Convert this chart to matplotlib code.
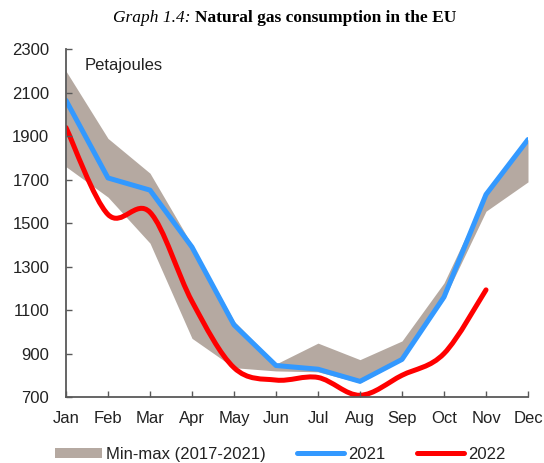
import matplotlib
matplotlib.use("Agg")
import matplotlib.pyplot as plt
from matplotlib.path import Path
from matplotlib.patches import PathPatch, Patch
from matplotlib.lines import Line2D

months = ["Jan", "Feb", "Mar", "Apr", "May", "Jun", "Jul", "Aug", "Sep", "Oct", "Nov", "Dec"]
band_max = [2200, 1890, 1730, 1400, 1050, 852, 948, 872, 958, 1225, 1635, 1885]
band_min = [1760, 1620, 1408, 970, 835, 820, 816, 765, 870, 1150, 1555, 1690]
gas_2021 = [2065, 1708, 1652, 1390, 1032, 845, 828, 772, 873, 1160, 1632, 1885]
gas_2022 = [1940, 1540, 1550, 1140, 835, 778, 790, 708, 800, 900, 1193]

BAND = "#b5a9a1"
BLUE = "#3399ff"
RED = "#ff0000"
AXIS = "#595959"


def smooth_path(xs, ys):
    # Excel-style smoothed line: cubic bezier through each point
    n = len(xs)
    verts = [(xs[0], ys[0])]
    codes = [Path.MOVETO]
    for i in range(n - 1):
        i0 = max(i - 1, 0)
        i3 = min(i + 2, n - 1)
        c1 = (xs[i] + (xs[i + 1] - xs[i0]) / 6, ys[i] + (ys[i + 1] - ys[i0]) / 6)
        c2 = (xs[i + 1] - (xs[i3] - xs[i]) / 6, ys[i + 1] - (ys[i3] - ys[i]) / 6)
        verts += [c1, c2, (xs[i + 1], ys[i + 1])]
        codes += [Path.CURVE4] * 3
    return Path(verts, codes)


plt.rcParams["font.family"] = ["Liberation Sans", "DejaVu Sans"]

fig = plt.figure(figsize=(5.44, 4.63), dpi=100)
ax = fig.add_axes([0.1213, 0.1425, 0.8493, 0.751])

x = list(range(len(months)))
ax.fill_between(x, band_min, band_max, color=BAND, linewidth=0)
ax.plot(x, gas_2021, color=BLUE, linewidth=3.6, solid_capstyle="round", solid_joinstyle="round")

x22 = list(range(len(gas_2022)))
ax.add_patch(PathPatch(smooth_path(x22, gas_2022), fill=False, edgecolor=RED,
                       linewidth=3.6, capstyle="round", joinstyle="round"))

ax.set_xlim(0, 11)
ax.set_ylim(700, 2300)
ax.set_xticks(x)
ax.set_xticklabels(months)
ax.set_yticks(range(700, 2301, 200))

for side in ["top", "right"]:
    ax.spines[side].set_visible(False)
for side in ["left", "bottom"]:
    ax.spines[side].set_color(AXIS)
    ax.spines[side].set_linewidth(1.3)

ax.tick_params(axis="both", direction="in", length=4, width=1, color=AXIS,
               labelsize=12, labelcolor="#222222")
ax.tick_params(axis="x", pad=10)
ax.tick_params(axis="y", pad=12)

ax.text(0.04, 0.975, "Petajoules", transform=ax.transAxes, fontsize=12,
        color="#222222", va="top", ha="left")

# title: italic prefix + bold text, centred together
title_font = ["Liberation Serif", "DejaVu Serif"]
t1 = fig.text(0, 0.952, "Graph 1.4: ", fontsize=12.5, style="italic",
              family=title_font, va="baseline", ha="left")
t2 = fig.text(0, 0.952, "Natural gas consumption in the EU", fontsize=12.5,
              weight="bold", family=title_font, va="baseline", ha="left")
fig.canvas.draw()
w1 = t1.get_window_extent().width
w2 = t2.get_window_extent().width
x0 = 285 - (w1 + w2) / 2
t1.set_x(x0 / fig.bbox.width)
t2.set_x((x0 + w1) / fig.bbox.width)

handles = [Patch(facecolor=BAND, edgecolor="none"),
           Line2D([], [], color=BLUE, linewidth=3.6, solid_capstyle="round"),
           Line2D([], [], color=RED, linewidth=3.6, solid_capstyle="round")]
fig.legend(handles, ["Min-max (2017-2021)", "2021", "2022"], loc="lower center",
           bbox_to_anchor=(0.515, -0.03), ncol=3, frameon=False, fontsize=12,
           handlelength=2.8, handleheight=0.6, handletextpad=0.25, columnspacing=1.9,
           labelcolor="#222222")

fig.savefig("out.png", dpi=100)
